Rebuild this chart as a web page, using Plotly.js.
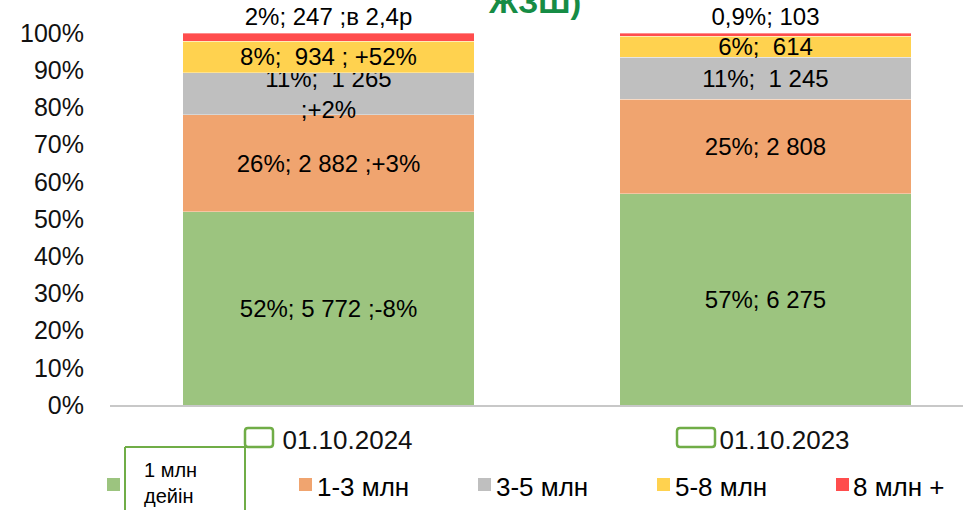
<!DOCTYPE html>
<html>
<head>
<meta charset="utf-8">
<script src="https://cdn.plot.ly/plotly-3.0.1.min.js"></script>
<style>
html,body{margin:0;padding:0;overflow:hidden;background:#fff;}
#chart{width:984px;height:510px;}
</style>
</head>
<body>
<div id="chart"></div>
<script>
// ---- data ----
const categories = ['01.10.2024', '01.10.2023'];
const seriesNames = ['1 млн<br>дейін', '1-3 млн', '3-5 млн', '5-8 млн', '8 млн +'];
const valUpTo1 = [5772, 6275];
const val1to3 = [2882, 2808];
const val3to5 = [1265, 1245];
const val5to8 = [934, 614];
const val8plus = [247, 103];
const lblUpTo1 = ['52%; 5 772 ;-8%', '57%; 6 275'];
const lbl1to3 = ['26%; 2 882 ;+3%', '25%; 2 808'];
const lbl3to5 = ['11%;\u00a0 1 265<br>;+2%', '11%;\u00a0 1 245'];
const lbl5to8 = ['8%;\u00a0 934 ; +52%', '6%;\u00a0 614'];
const lbl8plus = ['2%; 247 ;в 2,4р', '0,9%; 103'];
const yTickVals = [0, 10, 20, 30, 40, 50, 60, 70, 80, 90, 100];
const yTickText = ['0%', '10%', '20%', '30%', '40%', '50%', '60%', '70%', '80%', '90%', '100%'];
const titleFragment = 'ЖЗШ)';

// ---- style ----
const colors = ['#9CC47F', '#F0A46F', '#BFBFBF', '#FFD24F', '#FF4D4D'];
const FONT = 'Liberation Sans, Arial, sans-serif';
const series = [valUpTo1, val1to3, val3to5, val5to8, val8plus];
const labels = [lblUpTo1, lbl1to3, lbl3to5, lbl5to8, lbl8plus];

const traces = series.map((v, i) => ({
  type: 'bar',
  x: categories,
  y: v,
  name: seriesNames[i],
  text: labels[i],
  textposition: i === 4 ? 'outside' : 'inside',
  insidetextanchor: 'middle',
  constraintext: 'none',
  cliponaxis: false,
  textfont: {family: FONT, size: 24, color: '#000'},
  marker: {color: colors[i], line: {color: 'rgba(255,255,255,0.6)', width: 0.6}},
  hoverinfo: 'skip',
  showlegend: false
}));

// pixel -> paper helpers (plot area: x 110..984, y 33..405)
const L = 110, W = 874, T = 33, H = 372;
const px = x => (x - L) / W;
const py = y => (T + H - y) / H;

function roundRect(x0, y0, x1, y1, r) {
  const P = (x, y) => px(x) + ',' + py(y);
  return 'M' + P(x0 + r, y0) + ' L' + P(x1 - r, y0) + ' Q' + P(x1, y0) + ' ' + P(x1, y0 + r) +
    ' L' + P(x1, y1 - r) + ' Q' + P(x1, y1) + ' ' + P(x1 - r, y1) +
    ' L' + P(x0 + r, y1) + ' Q' + P(x0, y1) + ' ' + P(x0, y1 - r) +
    ' L' + P(x0, y0 + r) + ' Q' + P(x0, y0) + ' ' + P(x0 + r, y0) + ' Z';
}

const GREEN = '#70AD47';
const shapes = [
  {type: 'path', xref: 'paper', yref: 'paper', path: roundRect(245, 428, 273, 447, 3), line: {color: GREEN, width: 2.5}},
  {type: 'path', xref: 'paper', yref: 'paper', path: roundRect(677, 428, 715, 447, 3), line: {color: GREEN, width: 2.5}},
  {type: 'line', xref: 'paper', yref: 'paper', x0: px(125), x1: px(125), y0: py(447), y1: py(512), line: {color: GREEN, width: 2}},
  {type: 'line', xref: 'paper', yref: 'paper', x0: px(125), x1: px(245), y0: py(447), y1: py(447), line: {color: GREEN, width: 2}},
  {type: 'line', xref: 'paper', yref: 'paper', x0: px(245), x1: px(245), y0: py(445), y1: py(512), line: {color: GREEN, width: 2}}
];

// manual legend
const legSqX = [107, 299, 478, 657, 836];
const legTxtX = [142, 315, 494, 673, 851];
const annotations = [];
seriesNames.forEach((n, i) => {
  shapes.push({type: 'rect', xref: 'paper', yref: 'paper', x0: px(legSqX[i]), x1: px(legSqX[i] + 13),
    y0: py(491), y1: py(478), fillcolor: colors[i], line: {width: 0}});
  annotations.push({xref: 'paper', yref: 'paper', x: px(legTxtX[i]), y: py(i === 0 ? 483 : 487), xanchor: 'left', yanchor: 'middle',
    text: n, showarrow: false, align: 'left',
    font: {family: FONT, size: i === 0 ? 20 : 26, color: '#000'}});
});

annotations.push({xref: 'paper', yref: 'paper', x: px(486), y: py(15), xanchor: 'left', yanchor: 'bottom',
  yshift: -7, text: '<b>' + titleFragment + '</b>', showarrow: false,
  font: {family: FONT, size: 32, color: '#168C45'}});

const layout = {
  width: 984, height: 510,
  margin: {l: L, r: 984 - L - W, t: T, b: 510 - T - H, pad: 0},
  paper_bgcolor: '#fff', plot_bgcolor: '#fff',
  barmode: 'stack', barnorm: 'percent', bargap: 0.334,
  font: {family: FONT, color: '#111'},
  xaxis: {type: 'category', showgrid: false, zeroline: false, showline: true, linecolor: '#C8C8C8', linewidth: 2,
    ticks: '', tickfont: {family: FONT, size: 26, color: '#111'}, ticklabelshift: 19, ticklabelstandoff: 11,
    fixedrange: true},
  yaxis: {range: [0, 100], tickmode: 'array', tickvals: yTickVals, ticktext: yTickText, showgrid: false, zeroline: false, showline: false,
    ticks: '', tickfont: {family: FONT, size: 25, color: '#111'}, ticklabelstandoff: 25, fixedrange: true},
  shapes: shapes,
  annotations: annotations,
  showlegend: false
};

Plotly.newPlot('chart', traces, layout, {displayModeBar: false, staticPlot: true});
</script>
</body>
</html>
